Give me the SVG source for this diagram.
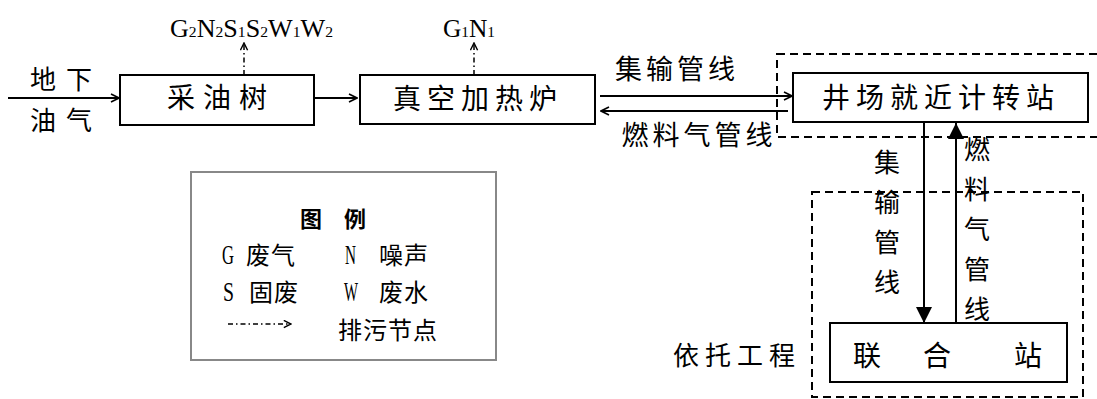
<svg xmlns="http://www.w3.org/2000/svg" width="1097" height="399" viewBox="0 0 1097 399">
<style>
.box{fill:#fff;stroke:#000;stroke-width:2}
.dash{fill:none;stroke:#000;stroke-width:2;stroke-dasharray:8 5}
.ln{fill:none;stroke:#000;stroke-width:2}
.dd{fill:none;stroke:#000;stroke-width:1.5;stroke-dasharray:5 3 1.5 3}
.cjk{font-family:"Noto Sans CJK SC","Noto Sans CJK JP",sans-serif;fill:#000}
.lat{font-family:"Liberation Serif",serif;fill:#000}
</style>
<defs>
<marker id="open" viewBox="0 0 10 10" refX="9" refY="5" markerWidth="10" markerHeight="10" markerUnits="userSpaceOnUse" orient="auto">
<path d="M1,1 L9,5 L1,9" fill="none" stroke="#000" stroke-width="1.6"/>
</marker>
<marker id="openS" viewBox="0 0 10 10" refX="9" refY="5" markerWidth="9" markerHeight="9" markerUnits="userSpaceOnUse" orient="auto">
<path d="M1,1 L9,5 L1,9" fill="none" stroke="#000" stroke-width="1.6"/>
</marker>
<marker id="tri" viewBox="0 0 16 16" refX="16" refY="8" markerWidth="16" markerHeight="16" markerUnits="userSpaceOnUse" orient="auto">
<path d="M0,0 L16,8 L0,16 Z" fill="#000"/>
</marker>
</defs>

<g id="regions">
<rect class="dash" x="777" y="54" width="340" height="83"/>
<rect class="dash" x="812" y="192" width="271" height="205"/>
</g>

<g id="connectors">
<line class="ln" x1="8" y1="98" x2="119" y2="98" marker-end="url(#open)"/>
<line class="ln" x1="314" y1="98" x2="357" y2="98" marker-end="url(#open)"/>
<line class="ln" x1="600" y1="96" x2="792" y2="96" marker-end="url(#open)"/>
<line class="ln" x1="788" y1="111" x2="601" y2="111" marker-end="url(#open)"/>
<line class="ln" x1="924" y1="122" x2="924" y2="323" marker-end="url(#tri)"/>
<line class="ln" x1="956" y1="328" x2="956" y2="123" marker-end="url(#tri)"/>
<line class="dd" x1="244" y1="75" x2="244" y2="43" marker-end="url(#openS)"/>
<line class="dd" x1="474" y1="75" x2="474" y2="43" marker-end="url(#openS)"/>
</g>

<g id="input">
<text class="cjk" font-size="26" x="66" y="89" text-anchor="middle" letter-spacing="10">地下</text>
<text class="cjk" font-size="26" x="66" y="130" text-anchor="middle" letter-spacing="10">油气</text>
</g>

<g id="caiyoushu">
<rect class="box" x="120" y="75" width="194" height="50"/>
<text class="cjk" font-size="28" x="221" y="108" text-anchor="middle" letter-spacing="8">采油树</text>
</g>

<g id="zhenkong">
<rect class="box" x="360" y="75" width="235" height="49"/>
<text class="cjk" font-size="28" x="478" y="109" text-anchor="middle" letter-spacing="6">真空加热炉</text>
</g>

<g id="emit1">
<text class="lat" x="170" y="37" textLength="163" lengthAdjust="spacingAndGlyphs"><tspan font-size="25">G</tspan><tspan font-size="15">2</tspan><tspan font-size="25">N</tspan><tspan font-size="15">2</tspan><tspan font-size="25">S</tspan><tspan font-size="15">1</tspan><tspan font-size="25">S</tspan><tspan font-size="15">2</tspan><tspan font-size="25">W</tspan><tspan font-size="15">1</tspan><tspan font-size="25">W</tspan><tspan font-size="15">2</tspan></text>
</g>
<g id="emit2">
<text class="lat" x="443" y="37" textLength="52" lengthAdjust="spacingAndGlyphs"><tspan font-size="25">G</tspan><tspan font-size="15">1</tspan><tspan font-size="25">N</tspan><tspan font-size="15">1</tspan></text>
</g>

<g id="pipe-labels">
<text class="cjk" font-size="27" x="677" y="79" text-anchor="middle" letter-spacing="4">集输管线</text>
<text class="cjk" font-size="27" x="699" y="145" text-anchor="middle" letter-spacing="4">燃料气管线</text>
</g>

<g id="jingchang">
<rect class="box" x="793" y="73" width="295" height="49"/>
<text class="cjk" font-size="28" x="941" y="108" text-anchor="middle" letter-spacing="6">井场就近计转站</text>
</g>

<g id="vertical-labels">
<text class="cjk" font-size="26" text-anchor="middle"><tspan x="887" y="172">集</tspan><tspan x="887" y="212">输</tspan><tspan x="887" y="252">管</tspan><tspan x="887" y="292">线</tspan></text>
<text class="cjk" font-size="26" text-anchor="middle"><tspan x="977" y="159">燃</tspan><tspan x="977" y="199">料</tspan><tspan x="977" y="239">气</tspan><tspan x="977" y="279">管</tspan><tspan x="977" y="319">线</tspan></text>
</g>

<g id="lianhezhan">
<rect class="box" x="830" y="323" width="237" height="59"/>
<text class="cjk" font-size="28" text-anchor="middle"><tspan x="867" y="366">联</tspan><tspan x="937" y="366">合</tspan><tspan x="1028" y="366">站</tspan></text>
</g>

<g id="yituo">
<text class="cjk" font-size="26" x="737" y="365" text-anchor="middle" letter-spacing="6">依托工程</text>
</g>

<g id="legend">
<rect x="191" y="172" width="305" height="188" fill="#fff" stroke="#888" stroke-width="2"/>
<text class="cjk" font-size="22" font-weight="bold" x="344" y="227" text-anchor="middle" letter-spacing="22">图例</text>
<text class="lat" font-size="27" x="222" y="264" textLength="12" lengthAdjust="spacingAndGlyphs">G</text>
<text class="cjk" font-size="24" x="246" y="264" letter-spacing="1">废气</text>
<text class="lat" font-size="27" x="345" y="264" textLength="11" lengthAdjust="spacingAndGlyphs">N</text>
<text class="cjk" font-size="24" x="379" y="264" letter-spacing="1">噪声</text>
<text class="lat" font-size="27" x="223" y="301" textLength="11" lengthAdjust="spacingAndGlyphs">S</text>
<text class="cjk" font-size="24" x="249" y="301" letter-spacing="1">固废</text>
<text class="lat" font-size="27" x="344" y="301" textLength="14" lengthAdjust="spacingAndGlyphs">W</text>
<text class="cjk" font-size="24" x="379" y="301" letter-spacing="1">废水</text>
<line class="dd" x1="228" y1="324" x2="291" y2="324" marker-end="url(#openS)"/>
<text class="cjk" font-size="24" x="338" y="339" letter-spacing="1">排污节点</text>
</g>
</svg>
